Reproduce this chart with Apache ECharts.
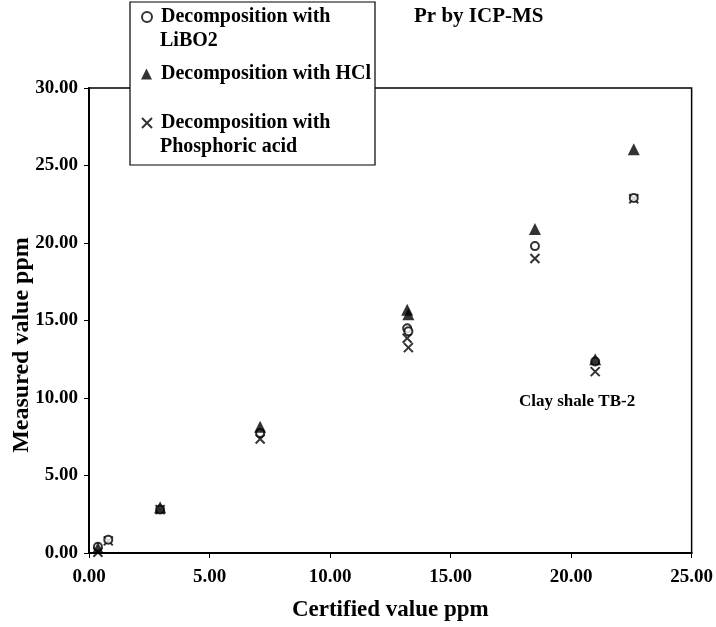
<!DOCTYPE html>
<html>
<head>
<meta charset="utf-8">
<script src="https://cdn.jsdelivr.net/npm/echarts@6/dist/echarts.min.js"></script>
<style>
  html, body { margin: 0; padding: 0; background: #fff; }
  #main { width: 716px; height: 627px; }
</style>
</head>
<body>
<div id="main"></div>
<script>
// certified value of each reference sample (ppm)
var certified = [0.37, 0.80, 2.95, 7.10, 13.20, 13.25, 18.50, 21.00, 22.60];
// measured values (ppm), one per sample, per decomposition method
var libo2 = [0.40, 0.85, 2.80, 7.75, 14.50, 14.30, 19.80, 12.35, 22.90];
var hcl = [0.32, null, 2.95, 8.15, 15.70, 15.40, 20.90, 12.50, 26.05];
var phosphoric = [0.05, 0.78, 2.80, 7.35, 13.85, 13.25, 19.00, 11.70, 22.85];
// axis ticks
var xTicks = [0, 5, 10, 15, 20, 25];
var yTicks = [0, 5, 10, 15, 20, 25, 30];

var FONT = "'Liberation Serif', 'DejaVu Serif', serif";

function pairs(ys) {
  var out = [];
  for (var i = 0; i < certified.length; i++) {
    if (ys[i] != null) out.push([certified[i], ys[i]]);
  }
  return out;
}

var chart = echarts.init(document.getElementById('main'));

var legendText = {
  fontFamily: FONT, fontWeight: 'bold', fontSize: 20, color: '#000',
  padding: [0, 0, 0, 4]
};

chart.setOption({
  animation: false,
  backgroundColor: '#fff',
  title: {
    text: 'Pr by ICP-MS',
    left: 409, top: 1,
    textStyle: { fontFamily: FONT, fontWeight: 'bold', fontSize: 21, color: '#000' }
  },
  grid: {
    left: 89, right: 22, top: 88, bottom: 74,
    show: true, borderColor: '#000', borderWidth: 1.5
  },
  xAxis: {
    type: 'value',
    min: xTicks[0], max: xTicks[xTicks.length - 1], interval: 5,
    name: 'Certified value ppm',
    nameLocation: 'middle', nameGap: 46,
    nameTextStyle: { fontFamily: FONT, fontWeight: 'bold', fontSize: 23, color: '#000' },
    axisLine: { lineStyle: { color: '#000', width: 2 } },
    axisTick: { show: true, length: 5, lineStyle: { color: '#000' } },
    splitLine: { show: false },
    axisLabel: {
      margin: 15, color: '#000', fontFamily: FONT, fontWeight: 'bold', fontSize: 19,
      formatter: function (v) { return v.toFixed(2); }
    }
  },
  yAxis: {
    type: 'value',
    min: yTicks[0], max: yTicks[yTicks.length - 1], interval: 5,
    axisLine: { lineStyle: { color: '#000', width: 2 } },
    axisTick: { show: true, length: 5, lineStyle: { color: '#000' } },
    splitLine: { show: false },
    axisLabel: {
      margin: 11, color: '#000', fontFamily: FONT, fontWeight: 'bold', fontSize: 19,
      formatter: function (v) { return v.toFixed(2); }
    }
  },
  legend: [
    {
      data: ['LiBO2'], left: 136, top: 2, z: 12, itemWidth: 10, itemHeight: 10,
      formatter: function () { return 'Decomposition with'; }, textStyle: legendText
    },
    {
      data: ['HCl'], left: 136, top: 59, z: 12, itemWidth: 11, itemHeight: 11,
      formatter: function () { return 'Decomposition with HCl'; }, textStyle: legendText
    },
    {
      data: ['Phosphoric acid'], left: 136, top: 108, z: 12, itemWidth: 10, itemHeight: 10,
      formatter: function () { return 'Decomposition with'; }, textStyle: legendText
    }
  ],
  graphic: [
    {
      type: 'rect', z: 10,
      shape: { x: 130, y: 2, width: 245, height: 163 },
      style: { fill: '#fff', stroke: '#000', lineWidth: 1.2 }
    },
    {
      type: 'text', z: 12, left: 160, top: 31,
      style: { text: 'LiBO2', font: 'bold 20px ' + FONT, fill: '#000' }
    },
    {
      type: 'text', z: 12, left: 160, top: 137,
      style: { text: 'Phosphoric acid', font: 'bold 20px ' + FONT, fill: '#000' }
    },
    {
      type: 'text', z: 12, left: 519, top: 393,
      style: { text: 'Clay shale TB-2', font: 'bold 17px ' + FONT, fill: '#000' }
    },
    {
      type: 'text', z: 12, x: 22, y: 345, rotation: Math.PI / 2,
      style: {
        text: 'Measured value ppm', font: 'bold 24px ' + FONT, fill: '#000',
        align: 'center', verticalAlign: 'middle'
      }
    }
  ],
  series: [
    {
      name: 'LiBO2', type: 'scatter', symbol: 'emptyCircle', symbolSize: 8,
      itemStyle: { color: '#000', borderColor: '#000', borderWidth: 1.6 },
      data: pairs(libo2), z: 3
    },
    {
      name: 'HCl', type: 'scatter', symbol: 'triangle', symbolSize: 12,
      itemStyle: { color: '#000' },
      data: pairs(hcl), z: 4
    },
    {
      name: 'Phosphoric acid', type: 'scatter',
      symbol: 'path://M0,0L10,10M10,0L0,10', symbolSize: 9,
      itemStyle: { color: 'rgba(0,0,0,0)', borderColor: '#000', borderWidth: 2 },
      data: pairs(phosphoric), z: 2
    }
  ]
});
</script>
</body>
</html>
